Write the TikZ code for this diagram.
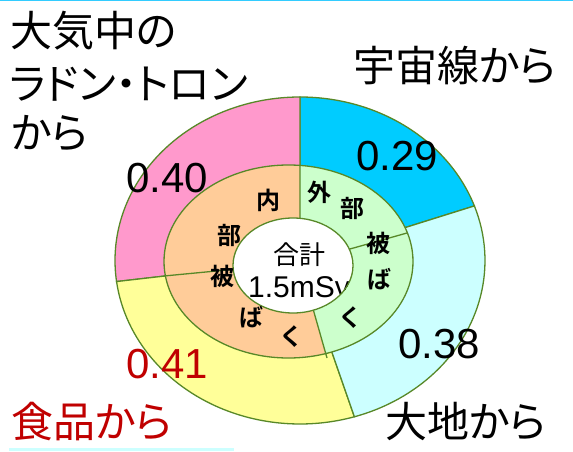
\documentclass[tikz,border=0pt]{standalone}
\usepackage{fontspec}
\setmainfont{Liberation Sans}
\newfontfamily\jp[RawFeature=+palt,BoldFont={Noto Sans CJK JP Bold}]{Noto Sans CJK JP}
\definecolor{bord}{RGB}{88,136,40}
\definecolor{cpink}{RGB}{255,153,204}
\definecolor{ccyan}{RGB}{0,204,255}
\definecolor{clcyan}{RGB}{204,255,255}
\definecolor{cyel}{RGB}{255,255,153}
\definecolor{cpeach}{RGB}{255,204,153}
\definecolor{cgreen}{RGB}{204,255,204}
\definecolor{cred}{RGB}{192,0,0}
\definecolor{topline}{RGB}{51,204,255}
\tikzset{
  lbl/.style={inner sep=0pt,anchor=base west,font=\jp\fontsize{42}{42}\selectfont},
  num/.style={inner sep=0pt,anchor=base west,font=\fontsize{42}{42}\selectfont},
  ring/.style={inner sep=0pt,anchor=center,font=\jp\bfseries\fontsize{24}{24}\selectfont},
  edge/.style={draw=bord,line width=1.3pt}
}
\begin{document}
\begin{tikzpicture}[x=1pt,y=1pt]
\useasboundingbox (0,0) rectangle (573,451);
\fill[white] (0,0) rectangle (573,451);
\fill[topline] (0,449.5) rectangle (573,451);
\fill[clcyan] (9,0) rectangle (234,3.5);
% outer pie
\coordinate (C) at (300,190.5);
\def\rx{185}\def\ry{163.5}
\filldraw[fill=ccyan,edge] (C) -- ++(19.5:\rx pt and \ry pt) arc[start angle=19.5,end angle=90,x radius=\rx,y radius=\ry] -- cycle;
\filldraw[fill=cpink,edge] (C) -- ++(90:\rx pt and \ry pt) arc[start angle=90,end angle=187.4,x radius=\rx,y radius=\ry] -- cycle;
\filldraw[fill=cyel,edge] (C) -- ++(187.4:\rx pt and \ry pt) arc[start angle=187.4,end angle=287.1,x radius=\rx,y radius=\ry] -- cycle;
\filldraw[fill=clcyan,edge] (C) -- ++(287.1:\rx pt and \ry pt) arc[start angle=287.1,end angle=379.5,x radius=\rx,y radius=\ry] -- cycle;
% middle ring
\coordinate (M) at (288.5,189.5);
\fill[cpeach] (M) ellipse[x radius=124.5,y radius=96.5];
\begin{scope}
  \clip (M) ellipse[x radius=124.5,y radius=96.5];
  \fill[cgreen] (300,188) -- (300,451) -- (573,451) -- (573,0) -- (353,0) -- cycle;
\end{scope}
\coordinate (P) at (300,188);
\coordinate (Tt) at (300,286);
\coordinate (Tr) at (407,218);
\coordinate (Tb) at (327,93);
\coordinate (Tl) at (164,175);
\draw[edge] (P) -- (Tt) (P) -- (Tr) (P) -- (Tb) (P) -- (Tl);
\draw[edge] (M) ellipse[x radius=124.5,y radius=96.5];
% inner white
\coordinate (W) at (293,185.5);
\fill[white] (W) ellipse[x radius=60,y radius=47.5];
\begin{scope}
  \clip (W) ellipse[x radius=60,y radius=47.5];
  \node[inner sep=0pt,anchor=center,font=\jp\fontsize{26}{26}\selectfont] (tot) at (299,196) {合計};
  \node[inner sep=0pt,anchor=base west,font=\fontsize{30}{30}\selectfont] (msv) at (248,154) {1.5mSv};
\end{scope}
\draw[edge] (W) ellipse[x radius=60,y radius=47.5];
% ring characters
\node[ring] (n1) at (268,251) {内};
\node[ring] (n2) at (229,216) {部};
\node[ring] (n3) at (222,175) {被};
\node[ring] (n4) at (251,134) {ば};
\node[ring] (n5) at (291,114) {く};
\node[ring] (g1) at (319,259) {外};
\node[ring] (g2) at (352,243) {部};
\node[ring] (g3) at (378,208) {被};
\node[ring] (g4) at (379,172) {ば};
\node[ring] (g5) at (350,133) {く};
% numbers
\node[num] (v1) at (126,259) {0.40};
\node[num] (v2) at (356,281) {0.29};
\node[num] (v3) at (398,93) {0.38};
\node[num,text=cred] (v4) at (126,73) {0.41};
% labels
\node[lbl] (a1) at (10,404) {大気中の};
\node[lbl] (a2) at (9,352) {ラドン・トロン};
\node[lbl] (a3) at (11,303) {から};
\node[lbl] (b1) at (353,370) {宇宙線から};
\node[lbl,text=cred] (c1) at (11,14) {食品から};
\node[lbl] (d1) at (385,14) {大地から};
\end{tikzpicture}
\end{document}
